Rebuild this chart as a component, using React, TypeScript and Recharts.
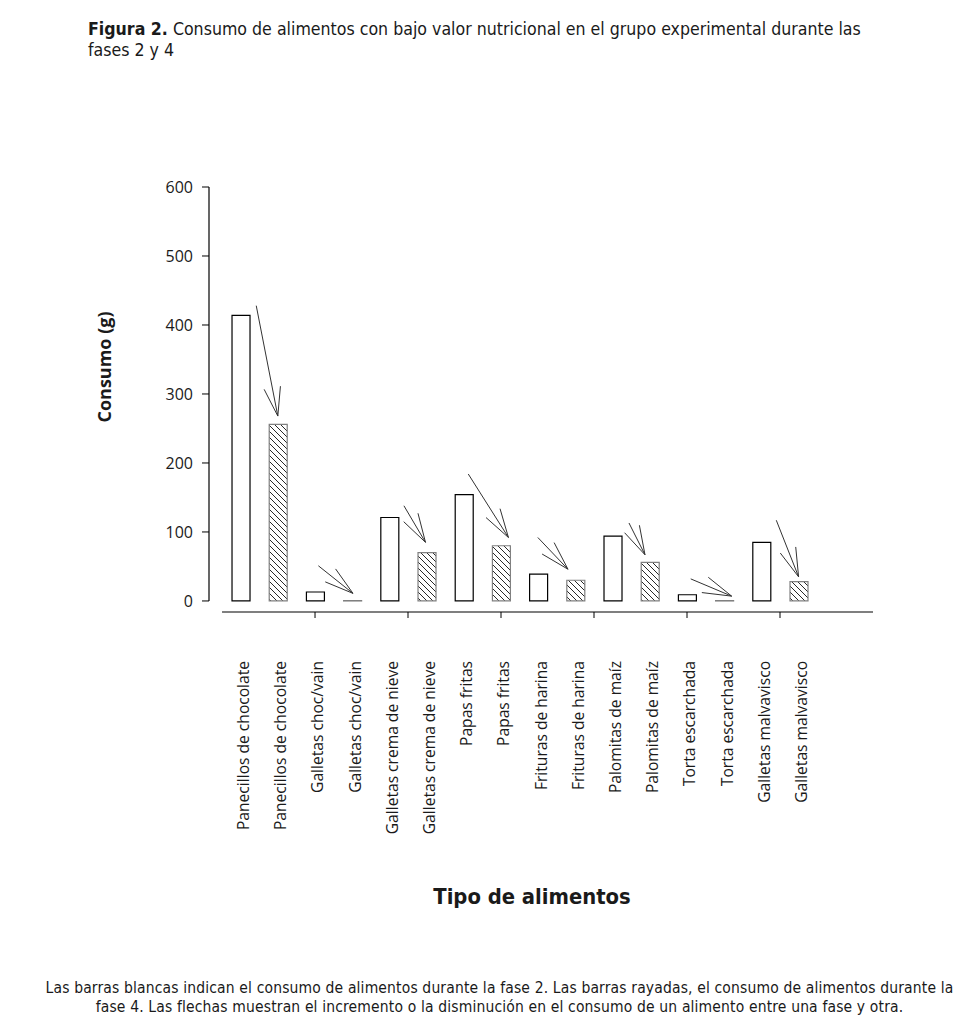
import { BarChart, Bar, XAxis, YAxis, Cell, LabelList, ReferenceLine } from "recharts";

const FOODS = [
    "Panecillos de chocolate",
    "Galletas choc/vain",
    "Galletas crema de nieve",
    "Papas fritas",
    "Frituras de harina",
    "Palomitas de maíz",
    "Torta escarchada",
    "Galletas malvavisco",
];
const FASE2 = [414, 13, 121, 154, 39, 94, 9, 85];
const FASE4 = [256, 0.5, 70, 80, 30, 56, 0.5, 28];

const Y_TICKS = [0, 100, 200, 300, 400, 500, 600];
const X_TICKS = [2, 4.5, 7, 9.5, 12, 14.5];

// arrows from phase 2 to phase 4, in bar-index / grams
const ARROW_X0 = [0.42, 2.09, 4.39, 6.12, 7.99, 10.44, 12.1, 14.4];
const ARROW_Y0 = [428, 51, 138, 184, 92, 113, 32, 117];
const ARROW_X1 = [1.0, 3.02, 4.97, 7.2, 8.8, 10.87, 13.2, 15.0];
const ARROW_Y1 = [268, 11, 85, 92, 46, 67, 7, 35];

const XMIN = -0.85;
const XMAX = 17;
const YMIN = -16;
const YMAX = 600;

const rows = FOODS.flatMap((food, i) => [
    { idx: 2 * i, name: food, value: FASE2[i], fase: 2 },
    { idx: 2 * i + 1, name: food, value: FASE4[i], fase: 4 },
]);

const TEXT = "#1a1a1a";
const NARROW = '"DejaVu Sans Condensed", "Liberation Sans Narrow", sans-serif';

function Arrow(props: any) {
    const { x1, y1, x2, y2 } = props;
    const a = Math.atan2(y2 - y1, x2 - x1);
    const len = 30;
    const spread = 0.28;
    const hx1 = x2 - len * Math.cos(a - spread);
    const hy1 = y2 - len * Math.sin(a - spread);
    const hx2 = x2 - len * Math.cos(a + spread);
    const hy2 = y2 - len * Math.sin(a + spread);
    return (
        <path
            d={`M${x1},${y1}L${x2},${y2}M${hx1},${hy1}L${x2},${y2}L${hx2},${hy2}`}
            stroke="#333"
            strokeWidth={1}
            fill="none"
        />
    );
}

function FoodLabel(props: any) {
    const { x, y, width, height, value } = props;
    const cx = x + width / 2 + 2;
    const ty = y + height + 60;
    return (
        <text
            x={cx}
            y={ty}
            transform={`rotate(-90 ${cx} ${ty})`}
            textAnchor="end"
            dominantBaseline="central"
            fontFamily="Open Sans"
            fontSize={15.6}
            fill={TEXT}
        >
            {value}
        </text>
    );
}

export default function App() {
    return (
        <div style={{ position: "absolute", left: 0, top: 0, width: 961, height: 1023, background: "#fff" }}>
            <div
                style={{
                    position: "absolute",
                    left: 88,
                    top: 19,
                    fontFamily: NARROW,
                    fontSize: 17.6,
                    lineHeight: "21px",
                    color: TEXT,
                    whiteSpace: "nowrap",
                }}
            >
                <b>Figura 2.</b> Consumo de alimentos con bajo valor nutricional en el grupo experimental durante las
                <br />
                fases 2 y 4
            </div>

            <BarChart
                width={961}
                height={1023}
                data={rows}
                margin={{ top: 187, right: 88, left: 149, bottom: 381 }}
                barSize={18}
                style={{ position: "absolute", left: 0, top: 0 }}
            >
                <defs>
                    <pattern id="hatch" patternUnits="userSpaceOnUse" width={6} height={6}>
                        <rect width={6} height={6} fill="#fff" />
                        <path d="M0,0L6,6M-1,5L1,7M5,-1L7,1" stroke="#111" strokeWidth={0.9} />
                    </pattern>
                </defs>
                <XAxis
                    dataKey="idx"
                    type="number"
                    domain={[XMIN, XMAX]}
                    allowDataOverflow
                    ticks={X_TICKS}
                    tickFormatter={() => ""}
                    axisLine={false}
                    tickLine={{ stroke: "#000" }}
                    tickSize={6}
                    height={30}
                />
                <YAxis
                    type="number"
                    domain={[YMIN, YMAX]}
                    allowDataOverflow
                    ticks={Y_TICKS}
                    axisLine={false}
                    tickLine={{ stroke: "#000" }}
                    tickSize={7}
                    tickMargin={9}
                    width={60}
                    tick={{ fill: TEXT, fontSize: 16, fontFamily: "Open Sans" }}
                />
                <ReferenceLine
                    segment={[{ x: XMIN, y: 0 }, { x: XMIN, y: YMAX }]}
                    stroke="#000"
                    strokeWidth={1.2}
                    ifOverflow="visible"
                />
                <ReferenceLine
                    segment={[{ x: -0.5, y: YMIN }, { x: XMAX, y: YMIN }]}
                    stroke="#000"
                    strokeWidth={1.2}
                    ifOverflow="visible"
                />
                <Bar dataKey="value" isAnimationActive={false}>
                    {rows.map((r) => (
                        <Cell
                            key={r.idx}
                            fill={r.fase === 2 ? "#fff" : "url(#hatch)"}
                            stroke={r.fase === 2 ? "#000" : "#808080"}
                            strokeWidth={1.2}
                        />
                    ))}
                    <LabelList dataKey="name" content={FoodLabel} />
                </Bar>
                {ARROW_X0.map((x0, i) => (
                    <ReferenceLine
                        key={i}
                        segment={[{ x: x0, y: ARROW_Y0[i] }, { x: ARROW_X1[i], y: ARROW_Y1[i] }]}
                        shape={Arrow}
                        ifOverflow="visible"
                    />
                ))}
            </BarChart>

            <div
                style={{
                    position: "absolute",
                    left: 104,
                    top: 367,
                    transform: "translate(-50%, -50%) rotate(-90deg)",
                    fontFamily: "Open Sans",
                    fontWeight: 700,
                    fontSize: 18,
                    color: TEXT,
                    whiteSpace: "nowrap",
                }}
            >
                Consumo (g)
            </div>

            <div
                style={{
                    position: "absolute",
                    left: 532,
                    top: 896,
                    transform: "translate(-50%, -50%)",
                    fontFamily: NARROW,
                    fontWeight: 700,
                    fontSize: 21.8,
                    color: TEXT,
                    whiteSpace: "nowrap",
                }}
            >
                Tipo de alimentos
            </div>

            <div
                style={{
                    position: "absolute",
                    left: 0,
                    width: 999,
                    top: 979,
                    textAlign: "center",
                    fontFamily: NARROW,
                    fontSize: 15.5,
                    letterSpacing: "0.15px",
                    lineHeight: "19px",
                    color: TEXT,
                }}
            >
                Las barras blancas indican el consumo de alimentos durante la fase 2. Las barras rayadas, el consumo de alimentos durante la
                <br />
                fase 4. Las flechas muestran el incremento o la disminución en el consumo de un alimento entre una fase y otra.
            </div>
        </div>
    );
}
